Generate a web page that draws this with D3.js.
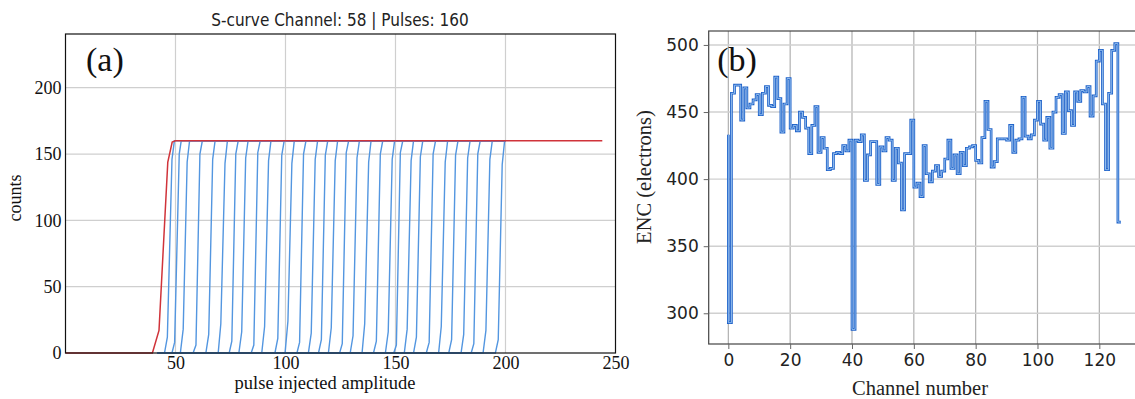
<!DOCTYPE html>
<html><head><meta charset="utf-8">
<script src="https://cdn.jsdelivr.net/npm/d3@7"></script>
<style>body{margin:0;background:#fff}svg{display:block}</style>
</head><body><svg id="c" width="1135" height="399"></svg>
<script>
// ---------- data ----------
const titleA = "S-curve Channel: 58 | Pulses: 160";
const xTicksA = [50, 100, 150, 200, 250];
const yTicksA = [0, 50, 100, 150, 200];
const pulses = 160;
// highlighted channel (red): [amplitude, counts]
const redCurve = [[0,0],[39.5,0],[42.5,17],[46.5,144],[48.5,159],[50,160],[244,160]];
// other channels: [xStart, xLow, yLow, xHigh, yHigh, xTop]
const blueCurves = [
 [45,46.3,12,48.4,146,49.5],[48.4,49.6,8,51.7,150,52.6],[52.2,53.5,18,55.3,144,56.4],
 [58,59.3,6,61.1,150,62.2],[63.8,65.1,14,66.9,146,68],[69.4,70.6,22,72.5,143,73.6],
 [74.4,75.6,9,77.4,150,78.5],[78.8,80.1,16,81.9,147,83],[84.4,85.6,6,87.4,151,88.5],
 [89.2,90.5,20,92.3,145,93.4],[95.2,96.5,11,98.3,149,99.4],[99.8,101.1,24,102.9,143,104],
 [105.2,106.4,8,108.2,150,109.3],[110.4,111.7,15,113.5,146,114.6],[115,116.3,10,118.1,149,119.2],
 [119.5,120.8,19,122.6,145,123.7],[124.6,125.8,7,127.6,151,128.7],[129.4,130.7,13,132.5,147,133.6],
 [134.8,136,22,137.8,144,138.9],[140,141.3,9,143.1,150,144.2],[145.4,146.7,16,148.5,146,149.6],
 [149.2,150.4,6,152.2,151,153.3],[154,155.3,18,157.1,145,158.2],[158.2,159.5,12,161.3,148,162.4],
 [164,165.3,8,167.1,150,168.2],[169.6,170.8,20,172.6,144,173.7],[174.2,175.5,10,177.3,149,178.4],
 [179.8,181,14,182.8,147,183.9],[184.4,185.6,7,187.4,150,188.5],[189.8,191.1,17,192.9,146,194],
 [195.4,196.7,10,198.5,142,199.6]
];
const blueScan = [42, 200];

const xTicksB = [0, 20, 40, 60, 80, 100, 120];
const yTicksB = [300, 350, 400, 450, 500];
const channels = d3.range(128);
const encValues = [
 433,293,464,470,470,444,468,453,456,459,463,448,464,469,455,454,476,460,435,456,
 475,438,440,436,450,446,438,419,440,454,420,431,423,407,408,419,420,419,425,421,
 429,288,429,428,433,399,418,428,428,396,424,421,431,429,399,423,412,377,419,419,
 444,394,397,387,425,404,398,406,410,402,406,415,429,408,418,404,420,410,423,424,
 425,414,412,431,458,437,409,413,430,430,430,429,440,420,429,430,461,432,430,433,
 444,458,441,429,446,423,450,461,463,434,465,451,440,465,458,466,465,469,447,462,
 488,496,456,407,464,496,501,368
];

// ---------- drawing ----------
const svg = d3.select("#c");
const serif = "'Liberation Serif', 'Times New Roman', serif";
const sans = "'DejaVu Sans', sans-serif";

// ===== Panel (a) =====
const xA = d3.scaleLinear().domain([0, 250]).range([65.5, 615.5]);
const yA = d3.scaleLinear().domain([0, 240.5]).range([353, 34]);
const gA = svg.append("g");
gA.selectAll(".gx").data(xTicksA.filter(d => d < 250)).join("line")
  .attr("x1", d => xA(d)).attr("x2", d => xA(d)).attr("y1", yA.range()[0]).attr("y2", yA.range()[1])
  .attr("stroke", "#cfcfcf").attr("stroke-width", 1.2);
gA.selectAll(".gy").data(yTicksA.filter(d => d > 0)).join("line")
  .attr("x1", xA.range()[0]).attr("x2", xA.range()[1]).attr("y1", d => yA(d)).attr("y2", d => yA(d))
  .attr("stroke", "#cfcfcf").attr("stroke-width", 1.2);

const lineA = d3.line().x(d => xA(d[0])).y(d => yA(d[1]));
const bluePts = blueCurves.map(c => [[blueScan[0],0],[c[0],0],[c[1],c[2]],[c[3],c[4]],[c[5],pulses],[blueScan[1],pulses]]);
gA.selectAll(".blue").data(bluePts).join("path")
  .attr("d", lineA).attr("fill", "none").attr("stroke", "#5396e0").attr("stroke-width", 1.4);
gA.append("path").attr("d", lineA(redCurve)).attr("fill", "none")
  .attr("stroke", "#d0333a").attr("stroke-width", 1.5);

gA.append("rect").attr("x", xA.range()[0]).attr("y", yA.range()[1])
  .attr("width", xA.range()[1] - xA.range()[0]).attr("height", yA.range()[0] - yA.range()[1])
  .attr("fill", "none").attr("stroke", "#111").attr("stroke-width", 1.2);

const axA = gA.append("g").attr("transform", `translate(0,${yA.range()[0]})`)
  .call(d3.axisBottom(xA).tickValues(xTicksA).tickSize(0).tickPadding(3));
const ayA = gA.append("g").attr("transform", `translate(${xA.range()[0]},0)`)
  .call(d3.axisLeft(yA).tickValues(yTicksA).tickSize(0).tickPadding(4));
[axA, ayA].forEach(a => { a.select(".domain").remove();
  a.selectAll("text").attr("font-family", serif).attr("font-size", 18).attr("fill", "#111"); });

svg.append("text").attr("x", 340).attr("y", 26).attr("text-anchor", "middle")
  .attr("font-family", "'Liberation Sans Narrow','DejaVu Sans Condensed',sans-serif")
  .attr("font-size", 17).attr("fill", "#222").text(titleA);
svg.append("text").attr("x", 86).attr("y", 71).attr("font-family", serif)
  .attr("font-size", 34).attr("fill", "#111").text("(a)");
svg.append("text").attr("transform", "translate(21,198) rotate(-90)").attr("text-anchor", "middle")
  .attr("font-family", serif).attr("font-size", 18).attr("fill", "#111").text("counts");
svg.append("text").attr("x", 325).attr("y", 389).attr("text-anchor", "middle")
  .attr("font-family", serif).attr("font-size", 18.5).attr("fill", "#111").text("pulse injected amplitude");

// ===== Panel (b) =====
const xB = d3.scaleLinear().domain([-6.35, 133.35]).range([708.7, 1140.6]);
const yB = d3.scaleLinear().domain([277.1, 510.4]).range([344, 31]);
const gB = svg.append("g");
gB.selectAll(".gx").data(xTicksB).join("line")
  .attr("x1", d => xB(d)).attr("x2", d => xB(d)).attr("y1", yB.range()[0]).attr("y2", yB.range()[1])
  .attr("stroke", "#b0b0b0").attr("stroke-width", 1.2);
gB.selectAll(".gy").data(yTicksB).join("line")
  .attr("x1", xB.range()[0]).attr("x2", xB.range()[1]).attr("y1", d => yB(d)).attr("y2", d => yB(d))
  .attr("stroke", "#d0d0d0").attr("stroke-width", 1.4);

const lineB = d3.line().curve(d3.curveStepBefore).x((d, i) => xB(channels[i])).y(d => yB(d));
gB.append("path").attr("d", lineB(encValues)).attr("fill", "none")
  .attr("stroke", "#1f62c9").attr("stroke-width", 2.7);
gB.append("path").attr("d", lineB(encValues)).attr("fill", "none")
  .attr("stroke", "#9dc6f2").attr("stroke-width", 0.9);

gB.append("rect").attr("x", xB.range()[0]).attr("y", yB.range()[1])
  .attr("width", xB.range()[1] - xB.range()[0]).attr("height", yB.range()[0] - yB.range()[1])
  .attr("fill", "none").attr("stroke", "#444").attr("stroke-width", 1.2);

const axB = gB.append("g").attr("transform", `translate(0,${yB.range()[0]})`)
  .call(d3.axisBottom(xB).tickValues(xTicksB).tickSize(5).tickPadding(5));
const ayB = gB.append("g").attr("transform", `translate(${xB.range()[0]},0)`)
  .call(d3.axisLeft(yB).tickValues(yTicksB).tickSize(5).tickPadding(5));
[axB, ayB].forEach(a => { a.select(".domain").remove();
  a.selectAll("line").attr("stroke", "#666");
  a.selectAll("text").attr("font-family", sans).attr("font-size", 17).attr("fill", "#222"); });

svg.append("text").attr("x", 737).attr("y", 71).attr("text-anchor", "middle").attr("font-family", serif)
  .attr("font-size", 34).attr("fill", "#111").text("(b)");
svg.append("text").attr("transform", "translate(651,177) rotate(-90)").attr("text-anchor", "middle")
  .attr("font-family", serif).attr("font-size", 20.5).attr("fill", "#222").text("ENC (electrons)");
svg.append("text").attr("x", 920).attr("y", 395).attr("text-anchor", "middle")
  .attr("font-family", serif).attr("font-size", 20.5).attr("fill", "#222").text("Channel number");
</script></body></html>
